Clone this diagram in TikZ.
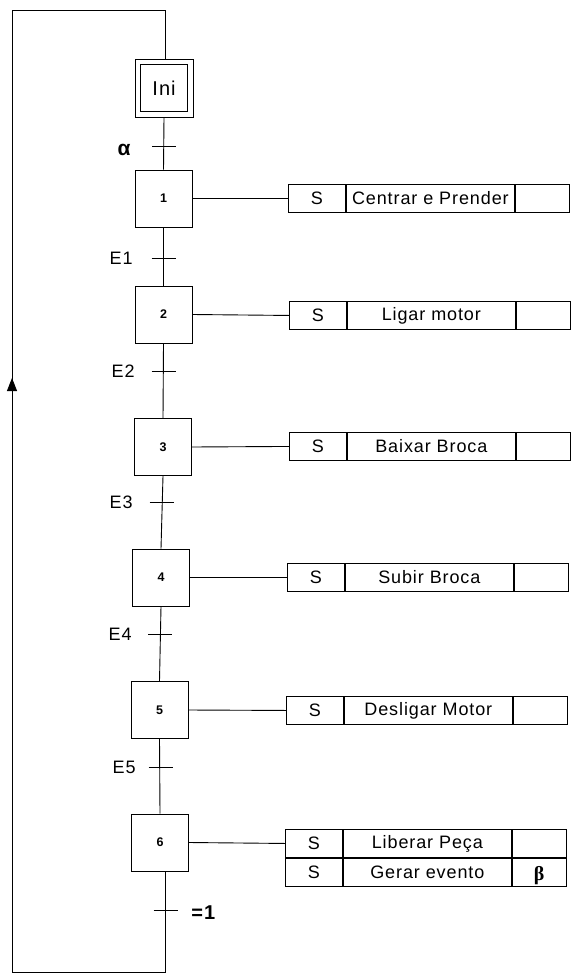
\documentclass[tikz,border=0pt]{standalone}
\usepackage{fontspec}
\setmainfont{Liberation Sans}[LetterSpace=5]
\newfontfamily\serifb{Liberation Serif}
\usetikzlibrary{arrows.meta}
\begin{document}
\begin{tikzpicture}[x=1pt,y=-1pt,line width=0.9pt,
  stepbox/.style={draw,minimum width=57pt,minimum height=57pt,inner sep=0pt,font=\fontsize{12.5}{14}\selectfont\bfseries},
  cellS/.style={draw,minimum width=57pt,minimum height=28pt,inner sep=0pt,anchor=north west,font=\fontsize{18}{20}\selectfont},
  cellT/.style={cellS,minimum width=168pt},
  cellE/.style={cellS,minimum width=54pt},
  lbl/.style={inner sep=0pt,anchor=east,font=\fontsize{18}{20}\selectfont},
  tick/.style={line width=0.9pt}]
\useasboundingbox (0,0) rectangle (572,979);

% initial step
\node[draw,minimum size=58pt,inner sep=0pt,font=\fontsize{20}{22}\selectfont] (ini) at (164,88) {Ini};
\node[draw,minimum size=47pt,inner sep=0pt] (inii) at (ini.center) {};

% steps
\node[stepbox] (s1) at (163.5,198.5) {1};
\node[stepbox] (s2) at (163.5,314.5) {2};
\node[stepbox] (s3) at (163,447) {3};
\node[stepbox] (s4) at (161,577.5) {4};
\node[stepbox] (s5) at (159.5,710) {5};
\node[stepbox] (s6) at (160,842.5) {6};

% vertical links
\draw (ini.south) -- (s1.north);
\draw (s1.south) -- (s2.north);
\draw (s2.south) -- (s3.north);
\draw (s3.south) -- (s4.north);
\draw (s4.south) -- (s5.north);
\draw (s5.south) -- (s6.north);

% transitions
\coordinate (t0) at (164,146);
\coordinate (t1) at (163.5,258);
\coordinate (t2) at (163.5,371);
\coordinate (t3) at (161.5,502);
\coordinate (t4) at (160,634);
\coordinate (t5) at (160.5,767);
\coordinate (t6) at (165.5,910);
\foreach \t in {t0,t1,t2,t3,t4,t5,t6}
  \draw[tick] ([xshift=-12pt]\t) -- ([xshift=12pt]\t);

\node[inner sep=0pt,font=\fontsize{21}{22}\selectfont\bfseries] (la) at (124,150) {α};
\node[lbl] (l1) at (133,258) {E1};
\node[lbl] (l2) at (135,371) {E2};
\node[lbl] (l3) at (133,502) {E3};
\node[lbl] (l4) at (132,634) {E4};
\node[lbl] (l5) at (136,767) {E5};
\node[inner sep=0pt,anchor=west,font=\fontsize{20}{22}\selectfont\bfseries] (l6) at (191,913) {=1};

% actions
\node[cellS] (a1s) at (288,184) {S};
\node[cellT] (a1t) at (a1s.north east) {Centrar e Prender};
\node[cellE] (a1e) at (a1t.north east) {};
\node[cellS] (a2s) at (289,301) {S};
\node[cellT] (a2t) at (a2s.north east) {Ligar motor};
\node[cellE] (a2e) at (a2t.north east) {};
\node[cellS] (a3s) at (289,432) {S};
\node[cellT] (a3t) at (a3s.north east) {Baixar Broca};
\node[cellE] (a3e) at (a3t.north east) {};
\node[cellS] (a4s) at (287,563) {S};
\node[cellT] (a4t) at (a4s.north east) {Subir Broca};
\node[cellE] (a4e) at (a4t.north east) {};
\node[cellS] (a5s) at (286,696) {S};
\node[cellT] (a5t) at (a5s.north east) {Desligar Motor};
\node[cellE] (a5e) at (a5t.north east) {};
\node[cellS] (a6s) at (285,829) {S};
\node[cellT] (a6t) at (a6s.north east) {Liberar Peça};
\node[cellE] (a6e) at (a6t.north east) {};
\node[cellS] (a7s) at (a6s.south west) {S};
\node[cellT] (a7t) at (a7s.north east) {Gerar evento};
\node[cellE] (a7e) at (a7t.north east) {};
\node[inner sep=0pt,font=\fontsize{20}{20}\selectfont\serifb\bfseries] (beta) at ([yshift=-3pt]a7e.center) {β};

\draw (s1.east) -- (a1s.west);
\draw (s2.east) -- (a2s.west);
\draw (s3.east) -- (a3s.west);
\draw (s4.east) -- (a4s.west);
\draw (s5.east) -- (a5s.west);
\draw (s6.east) -- (a6s.west);

% loop back
\coordinate (bl) at (12,972);
\coordinate (tl) at (12,10);
\coordinate (tr) at (165,10);
\coordinate (ah) at (12,378);
\draw ([xshift=5pt]s6.south) -- ([xshift=5pt]s6.south |- bl) -- (bl) -- (tl) -- (tr) -- (tr |- ini.north);
\draw[-{Triangle[length=13pt,width=10pt]}] (bl) -- (ah);
\end{tikzpicture}
\end{document}
